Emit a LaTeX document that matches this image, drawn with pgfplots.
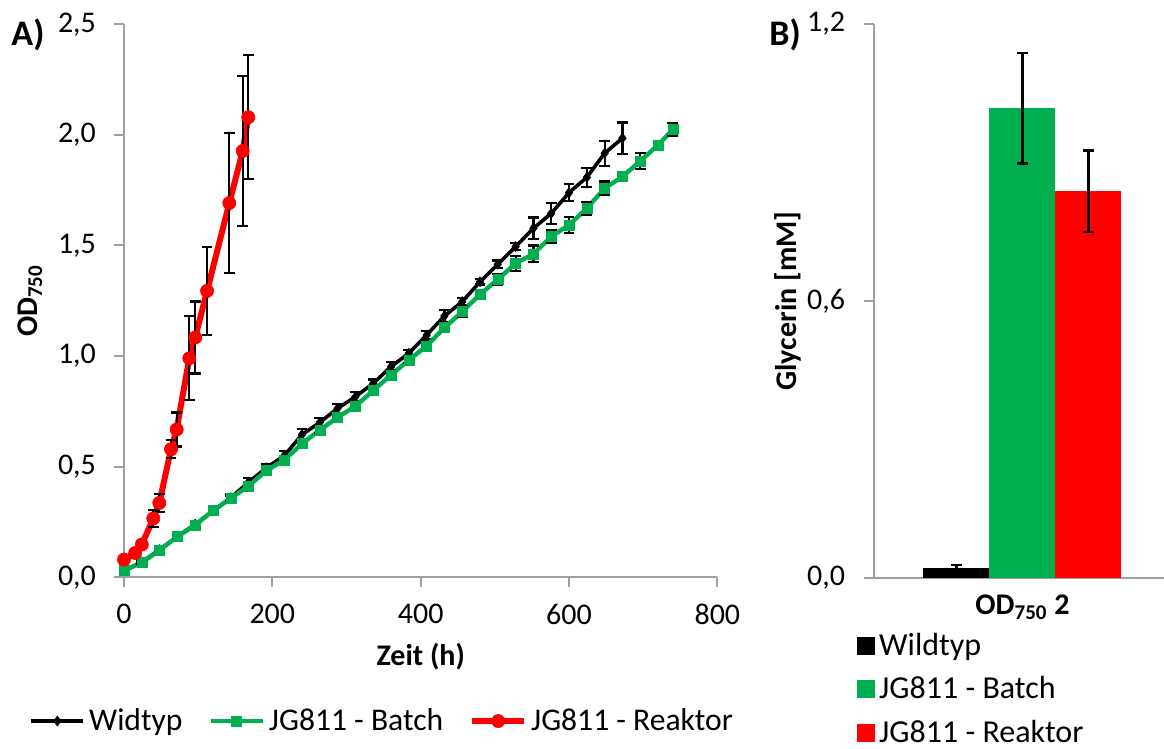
\documentclass[border=0pt]{standalone}
\usepackage{fontspec}
\setmainfont{Carlito}
\usepackage{pgfplots}
\pgfplotsset{compat=1.18}
\definecolor{xgreen}{HTML}{00B050}
\definecolor{xred}{HTML}{FF0000}
\definecolor{axgray}{HTML}{A0A0A0}
\begin{document}
\begin{tikzpicture}[font=\fontsize{15}{18}\selectfont]
\useasboundingbox (0,0) rectangle (582pt,374.5pt);
\pgfplotsset{
  myerr/.style={error bars/.cd, y dir=both, y explicit,
    error bar style={black, line width=1.1pt},
    error mark options={rotate=90, black, mark size=2.7pt, line width=1.1pt}},
}
\begin{axis}[
  at={(62pt,85.85pt)}, anchor=south west,
  scale only axis, width=296.7pt, height=276.5pt,
  xmin=0, xmax=800, ymin=0, ymax=2.5,
  axis lines*=left,
  axis line style={axgray, line width=1pt, -},
  tick align=outside, major tick length=5pt,
  tick style={axgray, line width=1pt},
  xtick={0,200,400,600,800},
  ytick={0,0.5,1,1.5,2,2.5},
  yticklabels={{0,0},{0,5},{1,0},{1,5},{2,0},{2,5}},
  xticklabels={0,200,400,600,800},
  yticklabel style={xshift=-5.5pt},
  xticklabel style={yshift=-5pt},
  xlabel={\textbf{Zeit (h)}},
  ylabel={\textbf{OD\textsubscript{750}}},
  xlabel style={at={(axis description cs:0.5,-0.144)}, anchor=center},
  ylabel style={at={(axis description cs:-0.158,0.5)}, anchor=center},
  legend columns=3,
  legend style={draw=none, fill=none, at={(axis description cs:-0.17,-0.26)}, anchor=west,
    font=\fontsize{15.8}{18}\selectfont,
    /tikz/every even column/.append style={column sep=11pt},
    cells={anchor=west}},
  legend image code/.code={\draw[mark repeat=2,mark phase=2,#1] plot coordinates {(0pt,0pt) (13pt,0pt) (26pt,0pt)};},
]
\addplot[black, line width=1.8pt, mark=diamond*, mark size=2.5pt, mark options={solid, line width=0.3pt}, myerr] coordinates {
(0,0.03) +- (0,0.005)
(24,0.07) +- (0,0.008)
(48,0.125) +- (0,0.01)
(72,0.185) +- (0,0.01)
(96,0.24) +- (0,0.012)
(120,0.30) +- (0,0.012)
(144,0.36) +- (0,0.015)
(168,0.43) +- (0,0.02)
(192,0.495) +- (0,0.015)
(216,0.55) +- (0,0.02)
(240,0.645) +- (0,0.025)
(264,0.70) +- (0,0.02)
(288,0.764) +- (0,0.02)
(312,0.816) +- (0,0.02)
(336,0.877) +- (0,0.017)
(360,0.952) +- (0,0.02)
(384,1.013) +- (0,0.015)
(408,1.095) +- (0,0.02)
(432,1.181) +- (0,0.027)
(456,1.246) +- (0,0.015)
(480,1.336) +- (0,0.012)
(504,1.415) +- (0,0.017)
(528,1.495) +- (0,0.015)
(552,1.578) +- (0,0.049)
(576,1.645) +- (0,0.047)
(600,1.739) +- (0,0.039)
(624,1.808) +- (0,0.044)
(648,1.917) +- (0,0.057)
(672,1.985) +- (0,0.071)
};
\addlegendentry{Widtyp}
\addplot[xgreen, line width=2.2pt, mark=square*, mark size=2.5pt, mark options={solid, line width=0.3pt}, myerr] coordinates {
(0,0.03) +- (0,0.005)
(24,0.066) +- (0,0.006)
(48,0.123) +- (0,0.008)
(72,0.184) +- (0,0.008)
(96,0.236) +- (0,0.01)
(120,0.301) +- (0,0.01)
(144,0.357) +- (0,0.012)
(168,0.413) +- (0,0.012)
(192,0.482) +- (0,0.012)
(216,0.530) +- (0,0.012)
(240,0.604) +- (0,0.015)
(264,0.666) +- (0,0.015)
(288,0.723) +- (0,0.015)
(312,0.774) +- (0,0.015)
(336,0.844) +- (0,0.015)
(360,0.915) +- (0,0.02)
(384,0.982) +- (0,0.015)
(408,1.046) +- (0,0.015)
(432,1.128) +- (0,0.015)
(456,1.201) +- (0,0.025)
(480,1.279) +- (0,0.015)
(504,1.347) +- (0,0.025)
(528,1.419) +- (0,0.035)
(552,1.462) +- (0,0.038)
(576,1.540) +- (0,0.03)
(600,1.593) +- (0,0.035)
(624,1.668) +- (0,0.03)
(648,1.759) +- (0,0.03)
(672,1.811) +- (0,0.012)
(696,1.882) +- (0,0.035)
(720,1.954) +- (0,0.012)
(740,2.025) +- (0,0.03)
};
\addlegendentry{JG811 - Batch}
\addplot[xred, line width=3pt, mark=*, mark size=3.3pt, mark options={solid, line width=0.3pt}, myerr] coordinates {
(0,0.08) +- (0,0.005)
(15,0.11) +- (0,0.01)
(24,0.148) +- (0,0.015)
(39.5,0.266) +- (0,0.04)
(47.6,0.336) +- (0,0.04)
(63.4,0.579) +- (0,0.04)
(71,0.668) +- (0,0.077)
(88,0.99) +- (0,0.19)
(96,1.084) +- (0,0.163)
(112,1.295) +- (0,0.2)
(142,1.692) +- (0,0.316)
(160,1.927) +- (0,0.34)
(167.5,2.08) +- (0,0.28)
};
\addlegendentry{JG811 - Reaktor}
\end{axis}

\begin{axis}[
  at={(437pt,85.5pt)}, anchor=south west,
  scale only axis, width=145pt, height=277pt,
  xmin=-2.25, xmax=2.144, ymin=0, ymax=1.2,
  axis lines*=left,
  axis line style={axgray, line width=1pt, -},
  tick align=outside, major tick length=5pt,
  tick style={axgray, line width=1pt},
  ytick={0,0.6,1.2},
  yticklabels={{0,0},{0,6},{1,2}},
  yticklabel style={xshift=-6pt},
  xtick={0},
  xticklabels={\textbf{OD\textsubscript{750} 2}},
  xtick style={draw=none},
  ylabel={\textbf{Glycerin [mM]}},
  ylabel style={at={(axis description cs:-0.297,0.5)}, anchor=center},
  legend style={draw=none, fill=none, at={(axis description cs:-0.08,-0.084)}, anchor=north west,
    font=\fontsize{16}{18}\selectfont,
    row sep=5.2pt, cells={anchor=west}},
  legend image code/.code={\fill[#1] (0pt,-4.5pt) rectangle (9pt,4.5pt);},
]
\addplot[ybar, fill=black, draw=none, bar width=33pt, bar shift=0pt, myerr] coordinates {(-1,0.022) +- (0,0.006)};
\addlegendentry{Wildtyp}
\addplot[ybar, fill=xgreen, draw=none, bar width=33pt, bar shift=0pt, myerr] coordinates {(0,1.018) +- (0,0.12)};
\addlegendentry{JG811 - Batch}
\addplot[ybar, fill=xred, draw=none, bar width=33pt, bar shift=0pt, myerr] coordinates {(1,0.838) +- (0,0.088)};
\addlegendentry{JG811 - Reaktor}
\end{axis}

\node[font=\fontsize{18}{20}\selectfont\bfseries] at (14pt,357pt) {A)};
\node[font=\fontsize{18}{20}\selectfont\bfseries] at (392.5pt,357pt) {B)};
\end{tikzpicture}
\end{document}
